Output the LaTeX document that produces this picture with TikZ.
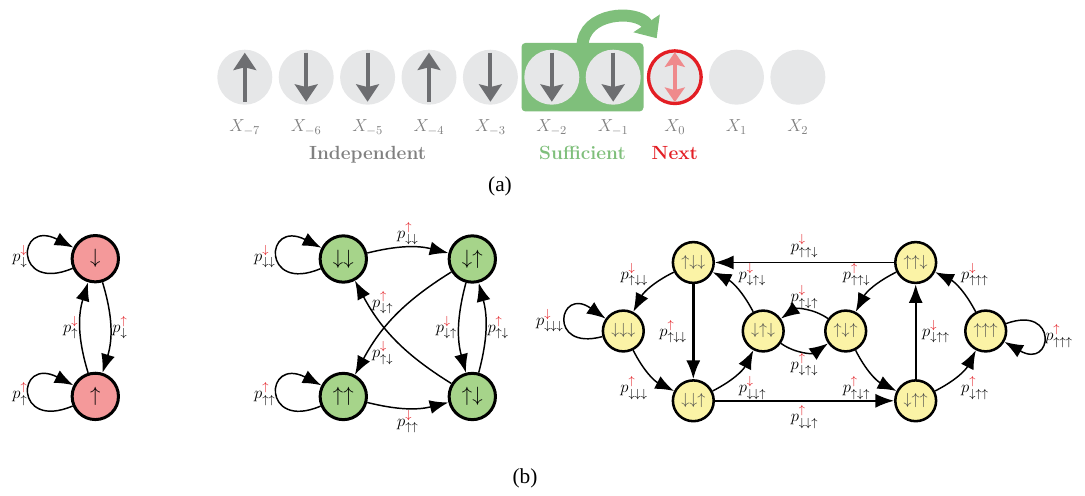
\RequirePackage{fix-cm}
\documentclass[tikz,border=0pt]{standalone}
\usepackage{fontspec}
\newfontfamily\capfont{Liberation Serif}
\usetikzlibrary{arrows.meta, positioning, fit, backgrounds}

\definecolor{beadgrey}{HTML}{E6E7E8}
\definecolor{spingrey}{HTML}{6D6E71}
\definecolor{suffgreen}{HTML}{7FBF7B}
\definecolor{nextred}{HTML}{E31E24}
\definecolor{nextpink}{HTML}{EF8A8C}
\definecolor{labgrey}{HTML}{808080}
\definecolor{onefill}{HTML}{F4999A}
\definecolor{twofill}{HTML}{A6D48A}
\definecolor{threefill}{HTML}{FBF3A6}

\newcommand{\upS}{\uparrow}
\newcommand{\dnS}{\downarrow}
\newcommand{\ptrans}[2]{$p^{\textcolor{nextred}{#1}}_{#2}$}

\begin{document}
\begin{tikzpicture}[
    x=0.75pt, y=0.75pt,
    >={Latex[length=14pt,width=10.5pt]},
    node distance=4.4pt,
    bead/.style={circle, fill=beadgrey, minimum size=41.25pt, inner sep=0pt},
    spin/.style={draw=spingrey, line width=3pt, -{Stealth[length=13pt,width=17pt,inset=2pt]}},
    nextspin/.style={draw=nextpink, line width=3pt, {Stealth[length=11pt,width=15pt,inset=2pt]}-{Stealth[length=11pt,width=15pt,inset=2pt]}},
    suffarrow/.style={draw=suffgreen, line width=9pt, -{Triangle[length=13.5pt,width=23pt]}},
    xlab/.style={anchor=base, text=labgrey, font=\fontsize{13}{15}\selectfont},
    grouplab/.style={anchor=base, font=\fontsize{14.3}{17}\selectfont\bfseries},
    onestate/.style={circle, draw, line width=2.25pt, fill=onefill, minimum size=34.75pt, inner sep=0pt, font=\fontsize{15.5}{18}\selectfont},
    twostate/.style={onestate, fill=twofill},
    threestate/.style={circle, draw, line width=1.9pt, fill=threefill, minimum size=30.6pt, inner sep=0pt, text=black!70, font=\fontsize{12}{14}\selectfont},
    hop/.style={->, line width=1.1pt},
    plab/.style={inner sep=1pt, font=\fontsize{12.5}{14}\selectfont},
    sublab/.style={font=\capfont\fontsize{16}{18}\selectfont}
  ]
    \useasboundingbox (0,0) rectangle (1085,496);

    % (a) the chain of spins
    \node[bead] (xm7) at (244.8,418.8) {};
    \node[bead, right=of xm7] (xm6) {};
    \node[bead, right=of xm6] (xm5) {};
    \node[bead, right=of xm5] (xm4) {};
    \node[bead, right=of xm4] (xm3) {};
    \node[bead, right=of xm3] (xm2) {};
    \node[bead, right=of xm2] (xm1) {};
    \node[bead, right=of xm1, draw=nextred, line width=2.5pt, minimum size=39.5pt] (x0) {};
    \node[bead, right=of x0] (x1) {};
    \node[bead, right=of x1] (x2) {};
    \begin{scope}[on background layer]
      \node[fill=suffgreen, rounded corners=3pt, inner xsep=1.9pt, inner ysep=4.9pt, fit=(xm2)(xm1)] (suff) {};
    \end{scope}
    \coordinate (hopend) at (656.7,457.7);
    \draw[suffarrow] ([yshift=-3pt]suff.north) to[out=90,in=124,looseness=1.2] (hopend);

    \draw[spin] ([yshift=-18.4pt]xm7.center) -- ([yshift=18.4pt]xm7.center);
    \draw[spin] ([yshift=18.4pt]xm6.center) -- ([yshift=-18.4pt]xm6.center);
    \draw[spin] ([yshift=18.4pt]xm5.center) -- ([yshift=-18.4pt]xm5.center);
    \draw[spin] ([yshift=-18.4pt]xm4.center) -- ([yshift=18.4pt]xm4.center);
    \draw[spin] ([yshift=18.4pt]xm3.center) -- ([yshift=-18.4pt]xm3.center);
    \draw[spin] ([yshift=18.4pt]xm2.center) -- ([yshift=-18.4pt]xm2.center);
    \draw[spin] ([yshift=18.4pt]xm1.center) -- ([yshift=-18.4pt]xm1.center);
    \draw[nextspin] ([yshift=-18.7pt]x0.center) -- ([yshift=18.7pt]x0.center);

    \node[xlab] (lm7) at (xm7 |- 0,364) {$X_{-7}$};
    \node[xlab] (lm6) at (xm6 |- 0,364) {$X_{-6}$};
    \node[xlab] (lm5) at (xm5 |- 0,364) {$X_{-5}$};
    \node[xlab] (lm4) at (xm4 |- 0,364) {$X_{-4}$};
    \node[xlab] (lm3) at (xm3 |- 0,364) {$X_{-3}$};
    \node[xlab] (lm2) at (xm2 |- 0,364) {$X_{-2}$};
    \node[xlab] (lm1) at (xm1 |- 0,364) {$X_{-1}$};
    \node[xlab] (l0) at (x0 |- 0,364) {$X_{0}$};
    \node[xlab] (l1) at (x1 |- 0,364) {$X_{1}$};
    \node[xlab] (l2) at (x2 |- 0,364) {$X_{2}$};

    \node[grouplab, text=labgrey] (indep) at (xm5 |- 0,336.7) {Independent};
    \node[grouplab, text=suffgreen] (sufft) at (suff |- 0,336.7) {Sufficient};
    \node[grouplab, text=nextred] (nextt) at (x0 |- 0,336.7) {Next};
    \node[sublab] (capa) at (500,310) {(a)};

    % (b) first order
    \node[onestate] (dn) at (95.3,237.3) {$\dnS$};
    \node[onestate] (up) at (95.3,99.6) {$\upS$};
    \draw[hop] (dn) to[out=203,in=153,min distance=48pt] node[plab, left] {\ptrans{\dnS}{\dnS}} (dn);
    \draw[hop] (up) to[out=203,in=153,min distance=48pt] node[plab, left] {\ptrans{\upS}{\upS}} (up);
    \draw[hop] (up) to[bend left=17] node[plab, left] {\ptrans{\dnS}{\upS}} (dn);
    \draw[hop] (dn) to[bend left=17] node[plab, right] {\ptrans{\upS}{\dnS}} (up);

    % second order
    \node[twostate] (dd) at (343.3,237) {$\dnS\dnS$};
    \node[twostate] (du) at (472.3,237) {$\dnS\upS$};
    \node[twostate] (uu) at (343.3,99.5) {$\upS\upS$};
    \node[twostate] (ud) at (472.3,99.5) {$\upS\dnS$};
    \draw[hop] (dd) to[out=203,in=153,min distance=48pt] node[plab, left] {\ptrans{\dnS}{\dnS\dnS}} (dd);
    \draw[hop] (dd) to[bend left=14] node[plab, above] {\ptrans{\upS}{\dnS\dnS}} (du);
    \draw[hop] (du) to[bend right=15] node[plab, left] {\ptrans{\dnS}{\dnS\upS}} (ud);
    \draw[hop] (ud) to[bend right=15] node[plab, right] {\ptrans{\upS}{\upS\dnS}} (du);
    \draw[hop] (du) to[bend right=15] node[plab, anchor=south east] {\ptrans{\upS}{\dnS\upS}} (uu);
    \draw[hop] (ud) to[bend left=15] node[plab, anchor=north east] {\ptrans{\dnS}{\upS\dnS}} (dd);
    \draw[hop] (uu) to[bend right=14] node[plab, below] {\ptrans{\dnS}{\upS\upS}} (ud);
    \draw[hop] (uu) to[out=203,in=153,min distance=48pt] node[plab, left] {\ptrans{\upS}{\upS\upS}} (uu);

    % third order
    \node[threestate] (udd) at (693.3,233.5) {$\upS\dnS\dnS$};
    \node[threestate] (ddd) at (623.3,165) {$\dnS\dnS\dnS$};
    \node[threestate] (ddu) at (693.3,95.2) {$\dnS\dnS\upS$};
    \node[threestate] (dud) at (763.2,165) {$\dnS\upS\dnS$};
    \node[threestate] (uud) at (915.7,233.5) {$\upS\upS\dnS$};
    \node[threestate] (udu) at (845.7,165) {$\upS\dnS\upS$};
    \node[threestate] (duu) at (915.7,95.2) {$\dnS\upS\upS$};
    \node[threestate] (uuu) at (985.7,165) {$\upS\upS\upS$};
    \draw[hop] (udd) to[bend right=18] node[plab, anchor=south east] {\ptrans{\dnS}{\upS\dnS\dnS}} (ddd);
    \draw[hop, line width=1.8pt] (udd) -- node[plab, left=3pt] {\ptrans{\upS}{\upS\dnS\dnS}} (ddu);
    \draw[hop] (ddd) to[out=195,in=145,min distance=43pt] node[plab, left] {\ptrans{\dnS}{\dnS\dnS\dnS}} (ddd);
    \draw[hop] (ddd) to[bend right=18] node[plab, anchor=north east] {\ptrans{\upS}{\dnS\dnS\dnS}} (ddu);
    \draw[hop] (ddu) to[bend right=18] node[plab, anchor=north west] {\ptrans{\dnS}{\dnS\dnS\upS}} (dud);
    \draw[hop] (dud) to[bend right=18] node[plab, anchor=south west] {\ptrans{\dnS}{\dnS\upS\dnS}} (udd);
    \draw[hop] (dud) to[bend right=35] node[plab, below] {\ptrans{\upS}{\dnS\upS\dnS}} (udu);
    \draw[hop] (udu) to[bend right=35] node[plab, above] {\ptrans{\dnS}{\upS\dnS\upS}} (dud);
    \draw[hop] (uud) -- node[plab, above=2pt] {\ptrans{\dnS}{\upS\upS\dnS}} (udd);
    \draw[hop] (ddu) -- node[plab, below=2pt] {\ptrans{\upS}{\dnS\dnS\upS}} (duu);
    \draw[hop] (uud) to[bend right=18] node[plab, anchor=south east] {\ptrans{\upS}{\upS\upS\dnS}} (udu);
    \draw[hop] (udu) to[bend right=18] node[plab, anchor=north east] {\ptrans{\upS}{\upS\dnS\upS}} (duu);
    \draw[hop, line width=1.8pt] (duu) -- node[plab, right=3pt] {\ptrans{\dnS}{\dnS\upS\upS}} (uud);
    \draw[hop] (duu) to[bend right=18] node[plab, anchor=north west] {\ptrans{\upS}{\dnS\upS\upS}} (uuu);
    \draw[hop] (uuu) to[bend right=18] node[plab, anchor=south west] {\ptrans{\dnS}{\upS\upS\upS}} (uud);
    \draw[hop] (uuu) to[out=20,in=-30,min distance=42pt] node[plab, right] {\ptrans{\upS}{\upS\upS\upS}} (uuu);

    \node[sublab] (capb) at (525,18) {(b)};
  \end{tikzpicture}
\end{document}
